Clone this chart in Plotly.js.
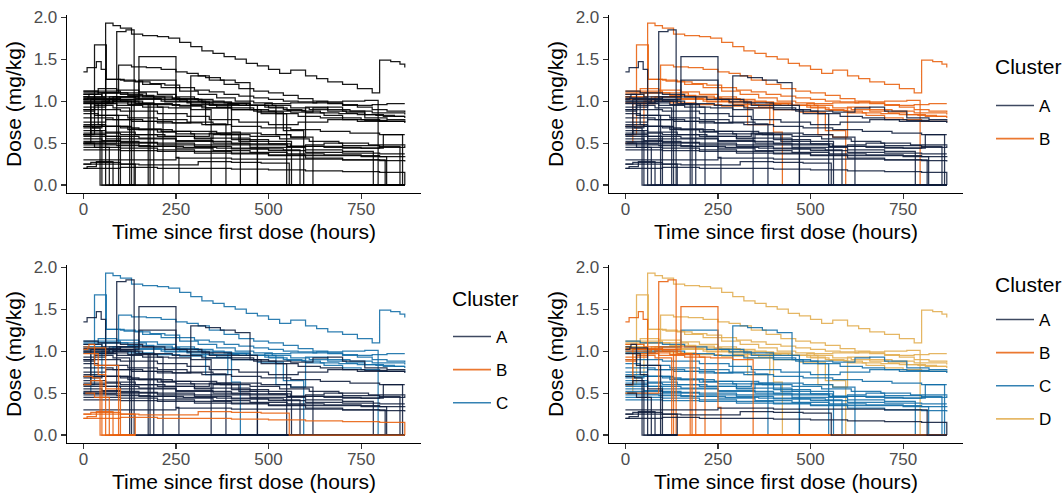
<!DOCTYPE html>
<html>
<head>
<meta charset="utf-8">
<script src="https://cdn.plot.ly/plotly-3.0.1.min.js"></script>
<style>html,body{margin:0;padding:0;background:#fff}#chart{width:1063px;height:493px}</style>
</head>
<body>
<div id="chart"></div>
<script>
// ---- Data: dosing time (hours) and dose (mg/kg) per patient, step profiles ----
const times = [
  // high sustained
  [0,60,80,100,130,160,200,230,260,290,320,350,380,410,440,470,500,530,560,600,630,660,700,740,780,800,830,855,868],
  [0,95,130,170,210,250,280,310,340,380,420,460,500,540,580,620,660,700,740,780,820,868],
  [0,30,62,100,140,180,220,260,300,340,380,420,460,500,540,580,620,660,700,740,780,820,868],
  [0,60,110,160,210,260,310,360,410,460,510,560,610,660,710,760,810,868],
  [0,40,90,150,200,250,300,350,400,450,500,550,600,650,700,750,800,868],
  [0,50,120,190,260,330,390,440,490,540,590,640,690,740,790,840,868],
  [0,30,100,170,240,310,380,450,520,560,600,660,720,780,868],
  [0,70,140,210,280,350,420,490,560,630,700,760,796,868],
  [0,20,80,150,220,290,360,400,424,868],
  [0,50,120,190,260,330,400,470,540,595,868],
  // middle
  [0,60,130,200,290,330,370,410,450,500,560,620,660,700,760,820,868],
  [0,40,100,160,220,280,340,400,460,520,580,640,700,760,820,868],
  [0,50,100,150,200,250,300,340,400,450,500,560,600,650,700,800,868],
  [0,50,100,200,300,400,500,600,700,800,868],
  [0,60,150,250,350,450,550,650,750,868],
  [0,100,200,300,400,500,600,700,800,868],
  [0,40,120,200,280,350,385,868],
  [0,60,140,220,300,350,420,470,868],
  [0,80,160,240,320,400,480,549,868],
  [0,100,200,300,400,500,562,868],
  [0,90,180,270,360,450,540,585,868],
  [0,120,240,360,480,560,620,868],
  [0,150,300,450,600,700,783,868],
  [0,100,200,300,400,500,600,700,800,819,868],
  [0,60,150,250,350,450,550,650,750,800,855,868],
  [0,100,250,400,550,700,810,862,868],
  [0,90,150,250,320,400,470,868],
  [0,80,160,240,320,400,480,560,640,720,800,868],
  [0,50,130,210,290,370,450,530,610,690,770,868],
  [0,100,200,280,340,420,500,580,660,740,868],
  // early stop, high dose
  [0,90,115,137,868],
  [0,70,150,250,258,868],
  [0,10,35,48,60,100,130,868],
  [0,50,100,140,175,868],
  [0,60,120,200,215,868],
  [0,100,190,868],
  [0,30,80,125,868],
  [0,20,80,150,180,868],
  [0,30,90,160,230,290,345,868],
  // low dose
  [0,130,250,400,550,700,815,868],
  // low / early stop
  [0,150,310,400,480,556,868],
  [0,100,200,300,400,500,600,700,800,868],
  [0,15,30,95,140],
  [0,40,60,100,140],
  [0,20,50,140],
  [0,20,100,140],
  [5,30,70,140],
  [0,25,45,140],
  [0,10,35,80,140],
  [0,12,60,140]
];
const doses = [
  [1.05,1.93,1.9,1.87,1.8,1.78,1.77,1.75,1.7,1.65,1.6,1.57,1.53,1.5,1.45,1.42,1.38,1.33,1.37,1.3,1.27,1.23,1.2,1.15,1.1,1.49,1.47,1.44,1.4],
  [1.1,1.43,1.41,1.4,1.38,1.35,1.33,1.3,1.25,1.2,1.15,1.12,1.1,1.07,1.03,1.0,0.98,0.95,0.93,0.9,0.88,0.87],
  [1.12,1.67,1.26,1.25,1.23,1.21,1.19,1.16,1.13,1.11,1.08,1.06,1.04,1.02,1.0,0.99,0.98,0.97,0.96,0.95,0.96,0.97,0.97],
  [1.02,1.26,1.24,1.2,1.16,1.12,1.08,1.04,1.0,0.98,0.95,0.92,0.9,0.88,0.86,0.84,0.82,0.8],
  [1.08,1.15,1.13,1.11,1.08,1.05,1.02,0.99,0.97,0.95,0.92,0.89,0.86,0.83,0.8,0.78,0.76,0.75],
  [1.05,1.1,1.07,1.04,1.0,0.72,0.97,0.95,0.93,0.9,0.88,0.86,0.85,0.84,0.83,0.82,0.82],
  [0.6,1.12,1.1,1.06,1.03,1.0,0.98,0.95,0.6,0.57,0.93,0.9,0.88,0.86,0.84],
  [0.98,1.05,1.03,1.0,0.98,0.96,0.95,0.97,0.98,0.99,1.0,1.01,0,0],
  [0.5,0.97,1.05,1.02,0.99,0.96,0.93,0.63,0,0],
  [0.7,1.0,0.98,0.96,0.94,0.92,0.9,0.87,0.65,0,0],
  [0.75,0.78,0.76,0.74,1.3,1.28,1.25,1.22,0.9,0.88,0.87,0.92,0.93,0.88,0.8,0.78,0.77],
  [1.12,1.1,1.08,1.05,1.02,0.99,0.95,0.92,0.88,0.85,0.82,0.8,0.78,0.77,0.76,0.76],
  [0.72,0.7,0.68,0.66,0.63,0.61,0.58,0.62,0.56,0.52,0.49,0.46,0.48,0.5,0.47,0.45,0.47],
  [0.55,0.53,0.51,0.48,0.46,0.43,0.41,0.39,0.38,0.37,0.37],
  [0.5,0.49,0.46,0.44,0.41,0.39,0.37,0.36,0.34,0.33],
  [0.45,0.44,0.42,0.4,0.38,0.35,0.32,0.3,0.29,0.28],
  [0.85,0.83,0.8,0.78,0.75,0.73,0,0],
  [0.65,0.63,0.6,0.58,0.55,0.6,0.52,0,0],
  [0.98,1.0,0.97,0.95,0.92,0.9,0.85,0,0],
  [0.62,0.6,0.58,0.56,0.54,0.52,0,0],
  [0.48,0.47,0.46,0.45,0.44,0.43,0.42,0,0],
  [0.7,0.66,0.64,0.62,0.6,0.57,0,0],
  [0.52,0.5,0.48,0.45,0.42,0.4,0,0],
  [0.42,0.41,0.4,0.38,0.37,0.36,0.35,0.35,0.34,0,0],
  [0.6,0.58,0.56,0.53,0.5,0.48,0.46,0.45,0.44,0.46,0,0],
  [0.58,0.55,0.52,0.49,0.46,0.44,0.6,0,0],
  [1.0,1.05,1.25,1.02,0.98,0.95,0,0],
  [0.8,0.78,0.76,0.74,0.72,0.7,0.68,0.66,0.64,0.62,0.6,0.6],
  [0.68,0.7,0.67,0.64,0.61,0.6,0.58,0.55,0.52,0.5,0.48,0.47],
  [0.9,0.88,0.85,0.82,0.78,0.75,0.72,0.75,0.78,0.76,0.74],
  [0.5,1.83,1.85,0,0],
  [1.0,1.02,1.53,0.33,0,0],
  [1.35,1.4,1.47,1.38,1.02,1.0,0,0],
  [1.08,1.05,1.02,0.97,0,0],
  [0.93,0.98,0.96,0.93,0,0],
  [1.03,1.05,0,0],
  [0.88,0.95,0.92,0,0],
  [0.6,1.02,1.0,0.97,0,0],
  [0.9,0.97,0.95,0.93,0.92,0.9,0,0],
  [0.3,0.3,0.32,0.31,0.31,0.3,0,0],
  [0.25,0.24,0.28,0.27,0.26,0,0],
  [0.2,0.21,0.2,0.2,0.19,0.18,0.17,0.16,0.15,0],
  [1.05,1.08,0.83,0,0],
  [0.97,0.72,0.55,0,0],
  [0.6,0.65,0,0],
  [0.25,0.27,0.25,0],
  [0.5,0.45,0,0],
  [0.7,0.68,0,0],
  [0.2,0.22,0.28,0,0],
  [1.02,1.04,0,0]
];
// cluster assignment per patient for 2, 3 and 4 clusters
const clusterK2 = ['B','B','B','B','B','B','B','B','B','B', 'A','A','A','A','A','A','A','A','A','A','A','A','A','A','A','A','A','A','A','A', 'A','A','A','A','A','A','A','A','A', 'A', 'A','A','A','A','A','A','A','A','A','A'];
const clusterK3 = ['C','C','C','C','C','C','C','C','C','C', 'A','A','A','A','A','A','A','A','A','A','A','A','A','A','A','A','A','A','A','A', 'A','A','A','A','A','A','A','A','A', 'A', 'B','B','B','B','B','B','B','B','B','B'];
const clusterK4 = ['D','D','D','D','D','D','D','D','D','D', 'C','C','C','C','C','C','C','C','C','C','C','C','C','C','C','C','C','C','C','C', 'B','B','B','B','B','B','B','B','B', 'A', 'A','A','A','A','A','A','A','A','A','A'];

const xTicks = [0, 250, 500, 750];
const yTicks = [0, 0.5, 1, 1.5, 2];
const clusterNames = ['A','B','C','D'];
const legendTitle = 'Cluster';

// ---- Styles ----
const palette = {A:'rgba(14,27,58,0.88)', B:'rgba(232,96,12,0.88)', C:'rgba(16,108,166,0.88)', D:'rgba(227,176,86,0.92)'};
const keyColor = {A:'rgba(14,27,58,0.8)', B:'rgba(232,96,12,0.85)', C:'rgba(16,108,166,0.85)', D:'rgba(227,176,86,0.9)'};
const FONT = 'Liberation Sans, Arial, Helvetica, sans-serif';

const panels = [
  {xa:'x',  ya:'y',  clusters:null,      legend:null},
  {xa:'x2', ya:'y2', clusters:clusterK2, legend:'legend'},
  {xa:'x3', ya:'y3', clusters:clusterK3, legend:'legend2'},
  {xa:'x4', ya:'y4', clusters:clusterK4, legend:'legend3'}
];

const traces = [];
panels.forEach(p => {
  times.forEach((t, i) => {
    const col = p.clusters ? palette[p.clusters[i]] : 'rgba(0,0,0,0.9)';
    traces.push({
      type:'scatter', mode:'lines', x:t, y:doses[i],
      xaxis:p.xa, yaxis:p.ya,
      line:{shape:'hv', color:col, width:1.25},
      showlegend:false, hoverinfo:'skip'
    });
  });
  if (p.clusters) {
    const used = clusterNames.filter(c => p.clusters.includes(c));
    used.forEach(c => {
      traces.push({
        type:'scatter', mode:'lines', x:[null], y:[null],
        xaxis:p.xa, yaxis:p.ya, name:c,
        legend:p.legend, legendgroup:p.legend + c,
        line:{color:keyColor[c], width:1.6},
        showlegend:true, hoverinfo:'skip'
      });
    });
  }
});

const W = 1063, H = 493;
function xd(a,b){return [a/W, b/W];}
function yd(top,bot){return [1-bot/H, 1-top/H];}

function xAxis(dom, anchor){
  return {domain:dom, anchor:anchor, range:[-44.3, 911.8], tickvals:xTicks,
    showline:true, linecolor:'#000', linewidth:1.3, ticks:'outside', ticklen:5, tickwidth:1.1, tickcolor:'#333',
    ticklabelstandoff:-5,
    showgrid:false, zeroline:false, tickfont:{family:FONT, size:17, color:'#4D4D4D'},
    title:{text:'Time since first dose (hours)', font:{family:FONT, size:21, color:'#000'}, standoff:6}};
}
function yAxis(dom, anchor){
  return {domain:dom, anchor:anchor, range:[-0.095, 2.027], tickvals:yTicks, tickformat:'.1f',
    showline:true, linecolor:'#000', linewidth:1.3, ticks:'outside', ticklen:5, tickwidth:1.1, tickcolor:'#333',
    showgrid:false, zeroline:false, tickfont:{family:FONT, size:17, color:'#4D4D4D'},
    title:{text:'Dose (mg/kg)', font:{family:FONT, size:21, color:'#000'}, standoff:6}};
}
function legendCfg(x, y){
  return {x:x, y:y, xanchor:'left', yanchor:'top', traceorder:'grouped', tracegroupgap:8,
    itemwidth:38, bgcolor:'rgba(0,0,0,0)', font:{family:FONT, size:17, color:'#000'}};
}
function titleAnn(xpx, ypx){
  return {xref:'paper', yref:'paper', x:xpx/W, y:1-ypx/H, xanchor:'left', yanchor:'middle',
    text:legendTitle, showarrow:false, font:{family:FONT, size:21, color:'#000'}};
}

const layout = {
  width:W, height:H, margin:{l:0, r:0, t:0, b:0},
  paper_bgcolor:'#fff', plot_bgcolor:'#fff',
  font:{family:FONT},
  showlegend:true,
  xaxis: xAxis(xd(67,421), 'y'),   yaxis: yAxis(yd(15,193), 'x'),
  xaxis2:xAxis(xd(609,963), 'y2'), yaxis2:yAxis(yd(15,193), 'x2'),
  xaxis3:xAxis(xd(67,421), 'y3'),  yaxis3:yAxis(yd(265,443), 'x3'),
  xaxis4:xAxis(xd(609,963), 'y4'), yaxis4:yAxis(yd(265,443), 'x4'),
  legend: legendCfg(991/W, 1-88/H),
  legend2:legendCfg(448/W, 1-319/H),
  legend3:legendCfg(991/W, 1-302/H),
  annotations:[titleAnn(993, 67), titleAnn(450, 298), titleAnn(993, 284)]
};

Plotly.newPlot('chart', traces, layout, {staticPlot:true, displayModeBar:false});
</script>
</body>
</html>
